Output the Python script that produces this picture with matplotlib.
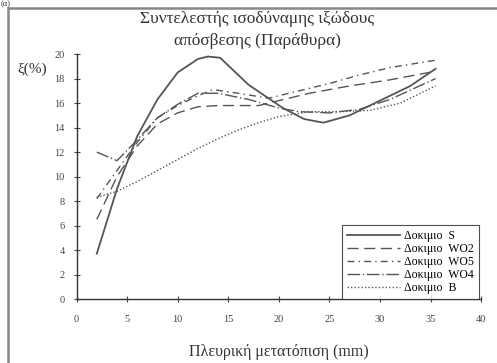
import numpy as np
import matplotlib
matplotlib.use('Agg')
import matplotlib.pyplot as plt
from matplotlib.patches import Rectangle

plt.rcParams['font.family'] = ['Liberation Serif', 'DejaVu Serif']

# Δεδομένα (εκτίμηση από την εικόνα)
x_S = [2, 4, 6, 8, 10, 12, 13, 14.2, 17, 20.4, 22.5, 24.4, 27, 30, 33, 35.5]
y_S = [3.7, 9.0, 13.3, 16.3, 18.5, 19.6, 19.8, 19.7, 17.5, 15.6, 14.7, 14.4, 15.0, 16.2, 17.4, 18.8]

x_WO2 = [2, 4, 6, 8, 10, 12, 14, 18, 20, 23, 27, 31, 35.5]
y_WO2 = [6.5, 10.0, 12.5, 14.3, 15.2, 15.7, 15.8, 15.8, 16.2, 16.8, 17.4, 17.9, 18.6]

x_WO5 = [2, 4, 6, 8, 10, 12, 13.5, 16, 19, 22, 25, 28, 31, 35.5]
y_WO5 = [8.2, 10.5, 12.8, 14.8, 15.8, 16.6, 17.1, 16.8, 16.4, 17.0, 17.6, 18.3, 18.9, 19.5]

x_WO4 = [2, 4, 6, 8, 10, 12, 14, 17, 20, 22, 25, 28, 31, 35.5]
y_WO4 = [12.0, 11.3, 13.0, 14.8, 15.9, 16.8, 16.8, 16.3, 15.6, 15.3, 15.2, 15.5, 16.3, 18.0]

x_B = [2, 4, 6, 8, 10, 12, 14, 16, 18, 20, 23, 26, 29, 32, 35.5]
y_B = [8.3, 8.8, 9.6, 10.5, 11.4, 12.3, 13.1, 13.8, 14.4, 14.9, 15.3, 15.3, 15.4, 16.0, 17.4]

labels = ['Δοκιμιο  S', 'Δοκιμιο  WO2', 'Δοκιμιο  WO5', 'Δοκιμιο  WO4', 'Δοκιμιο  B']
xticks = [0, 5, 10, 15, 20, 25, 30, 35, 40]
yticks = [0, 2, 4, 6, 8, 10, 12, 14, 16, 18, 20]

fig = plt.figure(figsize=(4.97, 3.63), dpi=100)
ax = fig.add_axes([0.154, 0.176, 0.814, 0.675])

c = '#555555'
ax.plot(x_S, y_S, color=c, lw=1.3, ls='-', label=labels[0])
ax.plot(x_WO2, y_WO2, color=c, lw=1.0, ls=(0, (8, 4)), label=labels[1])
ax.plot(x_WO5, y_WO5, color=c, lw=1.0, ls=(0, (5, 3, 1, 3)), label=labels[2])
ax.plot(x_WO4, y_WO4, color=c, lw=1.0, ls=(0, (9, 2, 1, 2)), label=labels[3])
ax.plot(x_B, y_B, color=c, lw=1.0, ls=(0, (1, 1.5)), label=labels[4])

ax.set_xlim(0, 40)
ax.set_ylim(0, 20)
ax.set_xticks(xticks)
ax.set_yticks(yticks)
ax.tick_params(direction='inout', length=5, width=0.8, labelsize=7.5, colors='#444444')
ax.tick_params(axis='x', pad=9)
ax.tick_params(axis='y', pad=6)
for s in ['top', 'right']:
    ax.spines[s].set_visible(False)
for s in ['left', 'bottom']:
    ax.spines[s].set_color('#333333')
    ax.spines[s].set_linewidth(1.0)

ax.set_xlabel('Πλευρική μετατόπιση (mm)', fontsize=11.5, color='#333333', labelpad=14)

leg = ax.legend(loc='lower right', fontsize=8.5, handlelength=4.5, frameon=True,
                fancybox=False, borderaxespad=0, labelspacing=0.1, borderpad=0.4,
                handletextpad=0.4, bbox_to_anchor=(0.995, 0.0))
leg.get_frame().set_edgecolor('#222222')
leg.get_frame().set_linewidth(0.8)

fig.text(0.517, 0.948, 'Συντελεστής ισοδύναμης ιξώδους', ha='center', va='center',
         fontsize=12.5, color='#333333')
fig.text(0.517, 0.888, 'απόσβεσης (Παράθυρα)', ha='center', va='center',
         fontsize=12.5, color='#333333')
fig.text(0.035, 0.81, 'ξ(%)', ha='left', va='center', fontsize=11, color='#333333')
fig.text(0.002, 0.999, '(α)', ha='left', va='top', fontsize=6, color='#333333')

fig.patches.append(Rectangle((0.016, -0.01), 0.99, 0.988, transform=fig.transFigure,
                             fill=False, edgecolor='#888888', lw=1.8))

fig.savefig('out.png', dpi=100)
